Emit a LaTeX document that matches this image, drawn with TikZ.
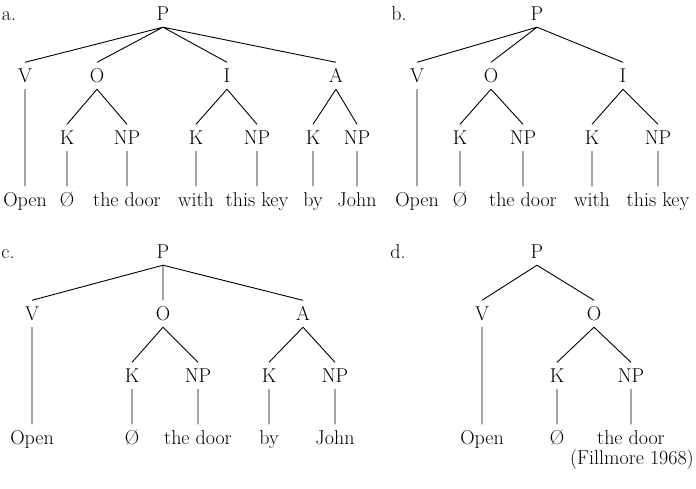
\documentclass[tikz,border=0pt]{standalone}
\usetikzlibrary{positioning}
\tikzset{x=1pt, y=-1pt, % one unit is one pixel of the page
font=\fontsize{20}{24}\selectfont, % large serif labels
node distance=62pt, % baseline to baseline between two tree levels
cat/.style={anchor=base, text height=12.5pt, text depth=0pt, inner xsep=1pt, inner ysep=7pt}, % category labels
word/.style={text height=12.5pt, text depth=0pt, inner xsep=1pt, inner ysep=7pt}, % words at the leaves
branch/.style={line width=0.9pt}, % the tree lines
}
\begin{document}
\begin{tikzpicture}
\useasboundingbox (0,0) rectangle (696,488);
% a.
\node[cat] (a-lab) at (9,20) {a.};
\node[cat] (a-P) at (163,20) {P};
\node[cat] (a-V) at (25,82) {V};
\node[cat] (a-O) at (97,82) {O};
\node[cat] (a-I) at (227,82) {I};
\node[cat] (a-A) at (336,82) {A};
\node[cat] (a-OK) at (67,144) {K};
\node[cat] (a-ONP) at (127,144) {NP};
\node[cat] (a-IK) at (196,144) {K};
\node[cat] (a-INP) at (257,144) {NP};
\node[cat] (a-AK) at (313,144) {K};
\node[cat] (a-ANP) at (357,144) {NP};
\node[word, below of=a-V, node distance=124pt] (a-open) {Open};
\node[word, below of=a-OK] (a-zero) {Ø};
\node[word, below of=a-ONP] (a-door) {the door};
\node[word, below of=a-IK] (a-with) {with};
\node[word, below of=a-INP] (a-key) {this key};
\node[word, below of=a-AK] (a-by) {by};
\node[word, below of=a-ANP] (a-john) {John};
\draw[branch] (a-P.south) -- (a-V.north)
(a-P.south) -- (a-O.north)
(a-P.south) -- (a-I.north)
(a-P.south) -- (a-A.north)
(a-O.south) -- (a-OK.north)
(a-O.south) -- (a-ONP.north)
(a-I.south) -- (a-IK.north)
(a-I.south) -- (a-INP.north)
(a-A.south) -- (a-AK.north)
(a-A.south) -- (a-ANP.north)
(a-V.south) -- (a-open.north)
(a-OK.south) -- (a-zero.north)
(a-ONP.south) -- (a-door.north)
(a-IK.south) -- (a-with.north)
(a-INP.south) -- (a-key.north)
(a-AK.south) -- (a-by.north)
(a-ANP.south) -- (a-john.north);
% b.
\node[cat] (b-lab) at (399,20) {b.};
\node[cat] (b-P) at (537,20) {P};
\node[cat] (b-V) at (417,82) {V};
\node[cat] (b-O) at (491,82) {O};
\node[cat] (b-I) at (623,82) {I};
\node[cat] (b-OK) at (460,144) {K};
\node[cat] (b-ONP) at (523,144) {NP};
\node[cat] (b-IK) at (592,144) {K};
\node[cat] (b-INP) at (658,144) {NP};
\node[word, below of=b-V, node distance=124pt] (b-open) {Open};
\node[word, below of=b-OK] (b-zero) {Ø};
\node[word, below of=b-ONP] (b-door) {the door};
\node[word, below of=b-IK] (b-with) {with};
\node[word, below of=b-INP] (b-key) {this key};
\draw[branch] (b-P.south) -- (b-V.north)
(b-P.south) -- (b-O.north)
(b-P.south) -- (b-I.north)
(b-O.south) -- (b-OK.north)
(b-O.south) -- (b-ONP.north)
(b-I.south) -- (b-IK.north)
(b-I.south) -- (b-INP.north)
(b-V.south) -- (b-open.north)
(b-OK.south) -- (b-zero.north)
(b-ONP.south) -- (b-door.north)
(b-IK.south) -- (b-with.north)
(b-INP.south) -- (b-key.north);
% c.
\node[cat] (c-lab) at (8,258) {c.};
\node[cat] (c-P) at (163,258) {P};
\node[cat] (c-V) at (32,320) {V};
\node[cat] (c-O) at (163,320) {O};
\node[cat] (c-A) at (303,320) {A};
\node[cat] (c-OK) at (132,382) {K};
\node[cat] (c-ONP) at (198,382) {NP};
\node[cat] (c-AK) at (269,382) {K};
\node[cat] (c-ANP) at (335,382) {NP};
\node[word, below of=c-V, node distance=124pt] (c-open) {Open};
\node[word, below of=c-OK] (c-zero) {Ø};
\node[word, below of=c-ONP] (c-door) {the door};
\node[word, below of=c-AK] (c-by) {by};
\node[word, below of=c-ANP] (c-john) {John};
\draw[branch] (c-P.south) -- (c-V.north)
(c-P.south) -- (c-O.north)
(c-P.south) -- (c-A.north)
(c-O.south) -- (c-OK.north)
(c-O.south) -- (c-ONP.north)
(c-A.south) -- (c-AK.north)
(c-A.south) -- (c-ANP.north)
(c-V.south) -- (c-open.north)
(c-OK.south) -- (c-zero.north)
(c-ONP.south) -- (c-door.north)
(c-AK.south) -- (c-by.north)
(c-ANP.south) -- (c-john.north);
% d.
\node[cat] (d-lab) at (398,258) {d.};
\node[cat] (d-P) at (537,258) {P};
\node[cat] (d-V) at (482,320) {V};
\node[cat] (d-O) at (594,320) {O};
\node[cat] (d-OK) at (557,382) {K};
\node[cat] (d-ONP) at (631,382) {NP};
\node[word, below of=d-V, node distance=124pt] (d-open) {Open};
\node[word, below of=d-OK] (d-zero) {Ø};
\node[word, below of=d-ONP] (d-door) {the door};
\draw[branch] (d-P.south) -- (d-V.north)
(d-P.south) -- (d-O.north)
(d-O.south) -- (d-OK.north)
(d-O.south) -- (d-ONP.north)
(d-V.south) -- (d-open.north)
(d-OK.south) -- (d-zero.north)
(d-ONP.south) -- (d-door.north);
\node[anchor=base east, inner sep=0pt] (source) at (694,464) {(Fillmore 1968)};
\end{tikzpicture}
\end{document}
